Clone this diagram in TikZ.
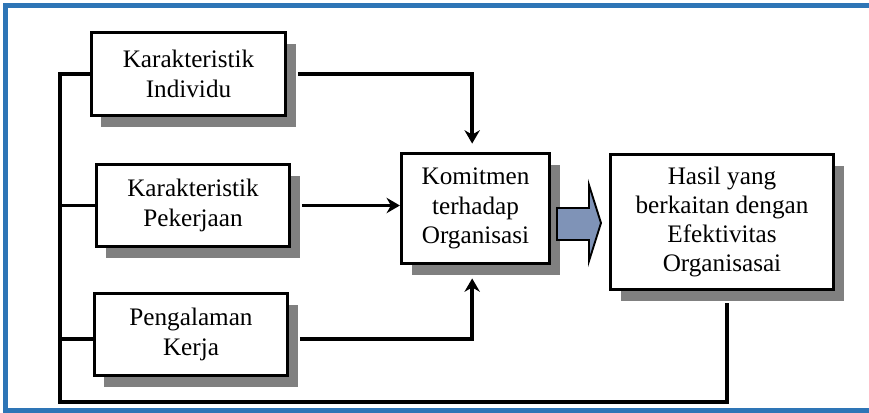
\documentclass[tikz,border=0pt]{standalone}
\usepackage{fontspec}
\setmainfont{Liberation Serif}
\usepackage{tikz}
\usetikzlibrary{arrows.meta,shadows}
\definecolor{frameblue}{RGB}{46,117,182}
\definecolor{shadowgray}{RGB}{128,128,128}
\definecolor{arrowblue}{RGB}{127,147,183}
\tikzstyle{box} = [rectangle, draw, line width=2.7pt, fill=white, align=center, inner sep=0pt, font=\fontsize{21.5}{25}\selectfont, drop shadow={shadow xshift=0.3cm, shadow yshift=-0.33cm, fill=shadowgray, opacity=1}]
\tikzstyle{factor} = [box, minimum width=5.79cm, minimum height=2.46cm]
\tikzstyle{flowline} = [draw=black, line width=3pt]
\tikzstyle{frame} = [draw=frameblue, line width=0.15cm]
\begin{document}
\begin{tikzpicture}[x=0.03cm, y=-0.03cm, >={Stealth[length=0.4cm, width=0.46cm]}]
    \useasboundingbox (0,0) rectangle (869,412);
    \draw [frame] (5.5,5.5) rectangle (890,410.5);
    \node [factor, minimum width=5.82cm, minimum height=2.49cm] (indiv) at (188.5,74) {Karakteristik\\Individu};
    \node [factor] (job) at (193,205.5) {Karakteristik\\Pekerjaan};
    \node [factor] (exp) at (191,334.5) {Pengalaman\\Kerja};
    \node [box, minimum width=4.44cm, minimum height=3.3cm] (kom) at (475.5,208.5) {Komitmen\\terhadap\\Organisasi};
    \node [box, minimum width=6.69cm, minimum height=4.05cm] (hasil) at (722,222) {Hasil yang\\berkaitan dengan\\Efektivitas\\Organisasai};
    \coordinate (corner) at (60,402);
    \coordinate (indivR) at ([xshift=0.32cm]indiv.east);
    \coordinate (jobR) at ([xshift=0.32cm]job.east);
    \coordinate (expR) at ([xshift=0.32cm,yshift=-0.13cm]exp.east);
    \coordinate (expL) at ([yshift=-0.13cm]exp.west);

    % factors -> commitment
    \draw [flowline,->] (indivR) -| ([xshift=-0.1cm,yshift=0.25cm]kom.north);
    \draw [flowline,->] (jobR) -- (jobR -| kom.west);
    \draw [flowline,->] (expR) -| ([xshift=-0.1cm,yshift=-0.4cm]kom.south);
    % feedback from results
    \draw [flowline] (indiv.west) -| (corner) -| ([xshift=0.15cm,yshift=-0.37cm]hasil.south);
    \draw [flowline] (job.west) -- (job.west -| corner);
    \draw [flowline] (expL) -- (expL -| corner);

    % commitment => results
    \coordinate (bstart) at (557,208);
    \draw [fill=arrowblue, line width=1.6pt] (bstart) -- ++(32,0) -- ++(0,-23) -- ++(12,38) -- ++(-12,38) -- ++(0,-21) -- ++(-32,0) -- cycle;
\end{tikzpicture}
\end{document}
